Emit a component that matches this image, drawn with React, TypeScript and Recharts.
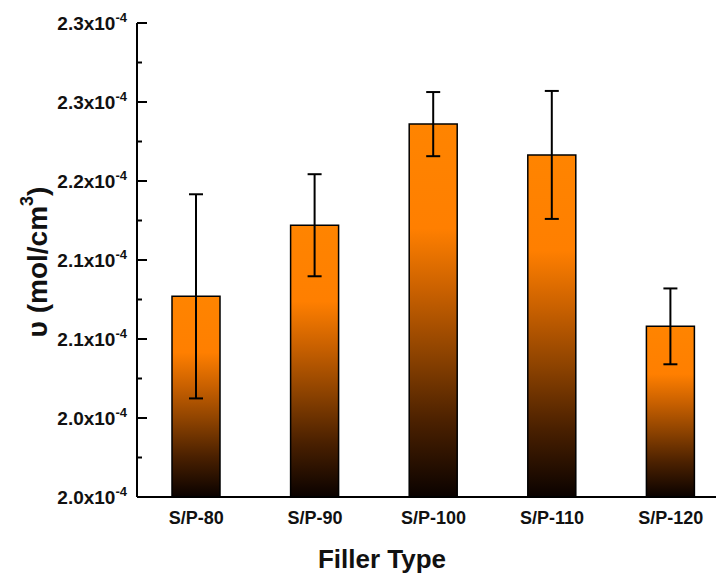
import React from 'react';
import { BarChart, Bar, XAxis, YAxis, ErrorBar, Label } from 'recharts';

const categories = ['S/P-80', 'S/P-90', 'S/P-100', 'S/P-110', 'S/P-120'];
const crosslinkDensity = [2.127, 2.172, 2.236, 2.2165, 2.108];
const stdDev = [0.0646, 0.0323, 0.0203, 0.0405, 0.024];
const yTicks = [2.0, 2.025, 2.05, 2.075, 2.1, 2.125, 2.15, 2.175, 2.2, 2.225, 2.25, 2.275, 2.3];
const yTickLabels = ['2.0', '2.0', '2.1', '2.1', '2.2', '2.3', '2.3'];

const data = categories.map((name, i) => ({ name, value: crosslinkDensity[i], err: stdDev[i] }));

const FONT = '"Liberation Sans", Arial, sans-serif';

const YTick = (props: any) => {
    const { x, y, index } = props;
    const major = index % 2 === 0;
    return (
        <g>
            <line x1={x} y1={y} x2={x + (major ? 10 : 5)} y2={y} stroke="#000" strokeWidth={2} />
            {major && (
                <text x={x - 10} y={y + 7} textAnchor="end" fontFamily={FONT} fontWeight="bold" fontSize={19} fill="#111">
                    {yTickLabels[index / 2]}x10
                    <tspan dy={-8} fontSize={13}>-4</tspan>
                </text>
            )}
        </g>
    );
};

const XTick = (props: any) => {
    const { x, y, payload } = props;
    return (
        <text x={x} y={y + 27} textAnchor="middle" fontFamily={FONT} fontWeight="bold" fontSize={18} fill="#111">
            {payload.value}
        </text>
    );
};

export default function App() {
    return (
        <div style={{ position: 'absolute', left: 0, top: 0, width: 716, height: 574, overflow: 'hidden', background: '#fff' }}>
            <BarChart width={735} height={574} data={data} margin={{ top: 23, right: 5, left: 7, bottom: 0 }}>
                <defs>
                    <linearGradient id="barFill" x1="0" y1="0" x2="0" y2="1">
                        <stop offset="0%" stopColor="#ff8400" />
                        <stop offset="28%" stopColor="#ff7f00" />
                        <stop offset="45%" stopColor="#c86000" />
                        <stop offset="62%" stopColor="#8c4200" />
                        <stop offset="80%" stopColor="#4a2000" />
                        <stop offset="100%" stopColor="#0a0200" />
                    </linearGradient>
                </defs>
                <XAxis
                    dataKey="name"
                    height={77}
                    tickLine={false}
                    tickSize={0}
                    tickMargin={0}
                    axisLine={{ stroke: '#000', strokeWidth: 2 }}
                    tick={<XTick />}
                    interval={0}
                >
                    <Label
                        content={(props: any) => {
                            const { viewBox } = props;
                            return (
                                <text x={viewBox.x + 245} y={568} textAnchor="middle" fontFamily={FONT} fontWeight="bold" fontSize={26} fill="#111">
                                    Filler Type
                                </text>
                            );
                        }}
                    />
                </XAxis>
                <XAxis xAxisId="top" dataKey="name" orientation="top" height={0} tick={false} tickLine={false} axisLine={{ stroke: '#000', strokeWidth: 2 }} />
                <YAxis
                    width={130}
                    domain={[2.0, 2.3]}
                    ticks={yTicks}
                    interval={0}
                    allowDataOverflow
                    tickLine={false}
                    tickSize={0}
                    tickMargin={0}
                    axisLine={{ stroke: '#000', strokeWidth: 2 }}
                    tick={<YTick />}
                >
                    <Label
                        content={(props: any) => {
                            const { viewBox } = props;
                            const cx = 37;
                            const cy = viewBox.y + viewBox.height / 2 + 2;
                            return (
                                <text x={cx} y={cy} transform={`rotate(-90 ${cx} ${cy})`} textAnchor="middle" dominantBaseline="central" fontFamily={FONT} fontWeight="bold" fontSize={28} fill="#111">
                                    υ (mol/cm<tspan dy={-10} fontSize={18}>3</tspan><tspan dy={10}>)</tspan>
                                </text>
                            );
                        }}
                    />
                </YAxis>
                <Bar dataKey="value" barSize={48} fill="url(#barFill)" stroke="#000" strokeWidth={1.5} isAnimationActive={false}>
                    <ErrorBar dataKey="err" direction="y" width={7} stroke="#000" strokeWidth={2} />
                </Bar>
            </BarChart>
        </div>
    );
}
